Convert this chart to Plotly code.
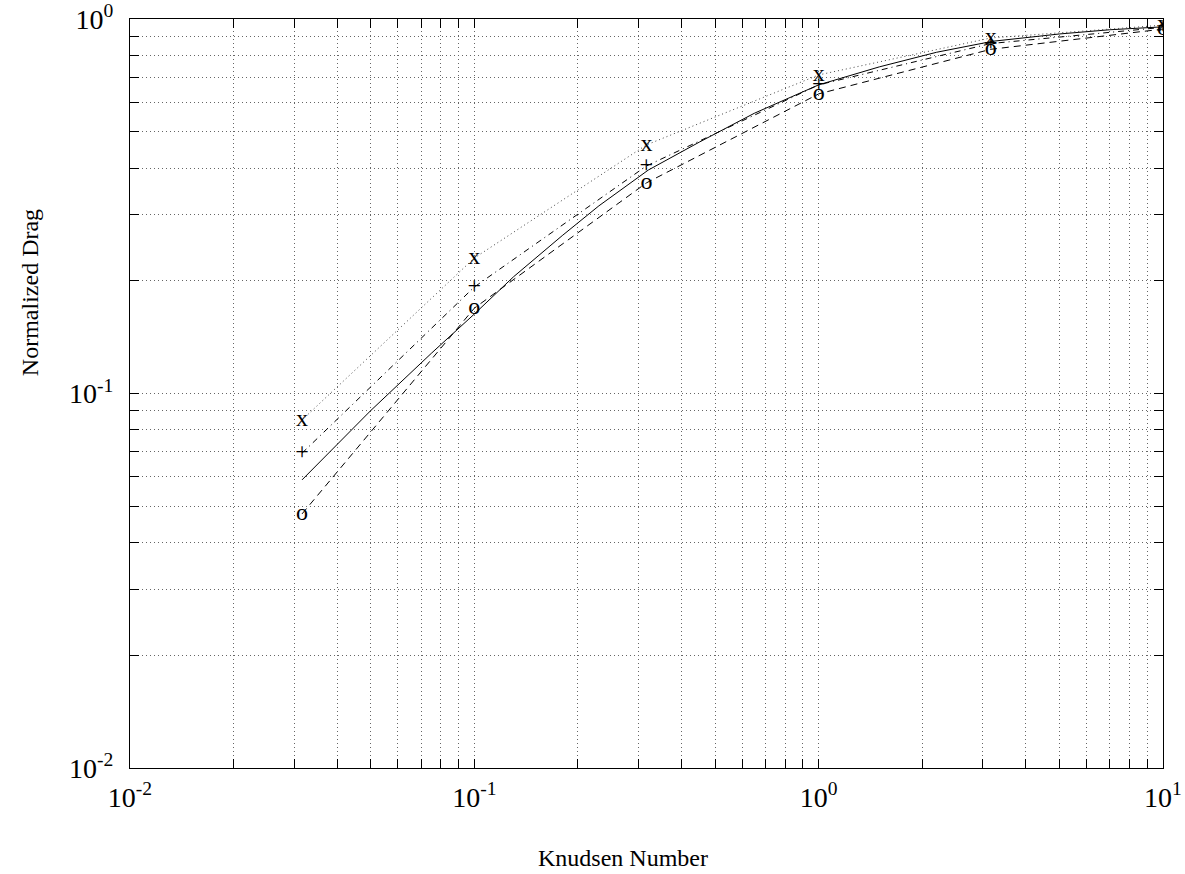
import plotly.graph_objects as go

# Data
kn_pts = [0.0316, 0.1, 0.316, 1.0, 3.16, 10.0]
drag_x = [0.085, 0.23, 0.461, 0.709, 0.89, 0.963]      # 'x' markers, dotted line
drag_plus = [0.0693, 0.1925, 0.405, 0.667, 0.86, 0.95]  # '+' markers, dash-dot line
drag_o = [0.0477, 0.169, 0.365, 0.631, 0.83, 0.94]      # 'o' markers, dashed line

kn_solid = [0.0316, 0.05, 0.075, 0.1, 0.13, 0.18, 0.23, 0.32, 0.45, 0.65,
            1.0, 1.5, 2.2, 3.2, 5.0, 7.0, 10.0]
drag_solid = [0.0588, 0.090, 0.128, 0.163, 0.205, 0.264, 0.317, 0.395, 0.469, 0.56,
              0.667, 0.745, 0.815, 0.872, 0.912, 0.936, 0.953]

x_tickvals = [0.01, 0.1, 1, 10]
x_ticktext = ["10<sup>-2</sup>", "10<sup>-1</sup>", "10<sup>0</sup>", "10<sup>1</sup>"]
y_tickvals = [0.01, 0.1, 1]
y_ticktext = ["10<sup>-2</sup>", "10<sup>-1</sup>", "10<sup>0</sup>"]

x_title = "Knudsen Number"
y_title = "Normalized Drag"

SERIF = "Liberation Serif, Times New Roman, serif"
MARK_FONT = dict(family=SERIF, size=24, color="black")

fig = go.Figure()
fig.add_trace(go.Scatter(x=kn_solid, y=drag_solid, mode="lines",
                         line=dict(color="black", width=1), showlegend=False))
fig.add_trace(go.Scatter(x=kn_pts, y=drag_o, mode="lines+text", text=["o"] * len(kn_pts),
                         textposition="middle center", textfont=MARK_FONT,
                         line=dict(color="black", width=1, dash="7px,5px"), showlegend=False))
fig.add_trace(go.Scatter(x=kn_pts, y=drag_plus, mode="lines+text", text=["+"] * len(kn_pts),
                         textposition="middle center", textfont=MARK_FONT,
                         line=dict(color="black", width=1, dash="6px,4px,1px,4px"), showlegend=False))
fig.add_trace(go.Scatter(x=kn_pts, y=drag_x, mode="lines+text", text=["x"] * len(kn_pts),
                         textposition="middle center", textfont=MARK_FONT,
                         line=dict(color="#444", width=1, dash="1px,3px"), showlegend=False))

axis_common = dict(
    type="log", showline=True, linecolor="black", linewidth=1, mirror="allticks",
    ticks="inside", ticklen=9, tickcolor="black", tickwidth=1, automargin=False,
    ticklabeloverflow="allow",
    showgrid=True, gridcolor="#666", gridwidth=1, griddash="1px,3px",
    zeroline=False, tickfont=dict(family=SERIF, size=28, color="black"),
    minor=dict(dtick="D1", ticks="inside", ticklen=9, tickcolor="black",
               showgrid=True, gridcolor="#666", gridwidth=1, griddash="1px,3px"),
)

fig.update_xaxes(**axis_common, range=[-2, 1], tickvals=x_tickvals, ticktext=x_ticktext,
                 ticklabelstandoff=4)
fig.update_yaxes(**axis_common, range=[-2, 0], tickvals=y_tickvals, ticktext=y_ticktext,
                 ticklabelstandoff=10)

# axis titles sit off-centre in the reference, so they are placed as annotations
TITLE_FONT = dict(family=SERIF, size=24, color="black")
fig.add_annotation(text=x_title, xref="paper", yref="paper", x=0.4773, y=-0.1202,
                   xanchor="center", yanchor="middle", showarrow=False, font=TITLE_FONT)
fig.add_annotation(text=y_title, xref="paper", yref="paper", x=-0.0968, y=0.634,
                   xanchor="center", yanchor="middle", textangle=-90, showarrow=False,
                   font=TITLE_FONT)

fig.update_layout(width=1185, height=874, margin=dict(l=130, r=22, t=19, b=106),
                  plot_bgcolor="white", paper_bgcolor="white")

# remove the default page margin so the figure fills the window exactly
fig.write_html("out.html", config={"displayModeBar": False},
               post_script="document.body.style.margin='0';document.body.style.overflow='hidden';")
